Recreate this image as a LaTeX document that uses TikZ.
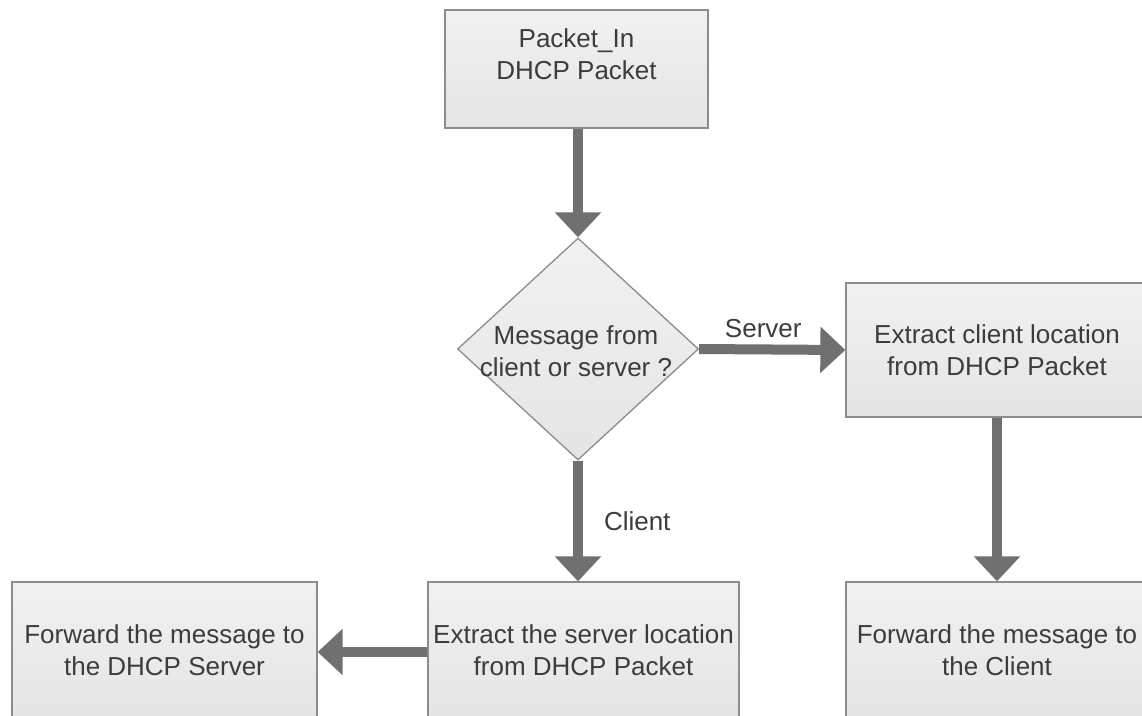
\documentclass[tikz,border=0pt]{standalone}
\usepackage{fontspec}
\setmainfont{Liberation Sans}
\usetikzlibrary{shapes.geometric,arrows.meta}
\definecolor{boxline}{HTML}{8C8C8C}
\definecolor{boxtop}{HTML}{F1F1F1}
\definecolor{boxbot}{HTML}{E5E5E5}
\definecolor{flow}{HTML}{707070}
\definecolor{ink}{HTML}{3C3C3C}
\tikzset{
  x=1pt, y=-1pt,
  every node/.style={font=\fontsize{26}{31.5}\selectfont, text=ink},
  stepbox/.style={draw=boxline, line width=1.3pt, top color=boxtop, bottom color=boxbot,
                  rectangle, inner sep=0pt, align=center},
  decision/.style={draw=boxline, line width=1.3pt, top color=boxtop, bottom color=boxbot,
                   diamond, inner sep=0pt},
  caption/.style={align=center, inner sep=0pt},
  flowarrow/.style={draw=flow, line width=10pt,
                    -{Triangle[width=45pt, length=25pt]}},
}
\begin{document}
\begin{tikzpicture}
\useasboundingbox (0,0) rectangle (1142,715);
\clip (0,0) rectangle (1142,715);
\fill[white] (0,0) rectangle (1142,715);

% process boxes
\node[stepbox, minimum width=263pt, minimum height=118pt] (pktin) at (576.5,69) {};
\node[caption] (pktintext) at (576.5,54) {Packet\_In\\DHCP Packet};

\node[decision, minimum width=241pt, minimum height=222pt] (decide) at (578,349) {};
\node[caption] (decidetext) at (576,351) {Message from\\client or server ?};

\node[stepbox, minimum width=302pt, minimum height=134pt] (getclient) at (997,350)
  {Extract client location\\from DHCP Packet};
\node[stepbox, minimum width=302pt, minimum height=136pt] (toclient) at (997,650)
  {Forward the message to\\the Client};

\node[stepbox, minimum width=311pt, minimum height=136pt] (getserver) at (583.5,650)
  {Extract the server location\\from DHCP Packet};
\node[stepbox, minimum width=305pt, minimum height=136pt] (toserver) at (164.5,650)
  {Forward the message to\\the DHCP Server};

% connectors
\draw[flowarrow] (pktin.south -| decide.north) -- (decide.north);
\draw[flowarrow] (decide.east) -- (getclient.west)
  node[midway, above=7pt, xshift=-9pt, inner sep=0pt] (srvlabel) {Server};
\draw[flowarrow] (decide.south) -- (decide.south |- getserver.north)
  node[midway, right=21pt, inner sep=0pt] (clilabel) {Client};
\draw[flowarrow] (getclient.south) -- (toclient.north);
\draw[flowarrow] ([yshift=-2pt]getserver.west) -- ([yshift=-2pt]toserver.east);
\end{tikzpicture}
\end{document}
